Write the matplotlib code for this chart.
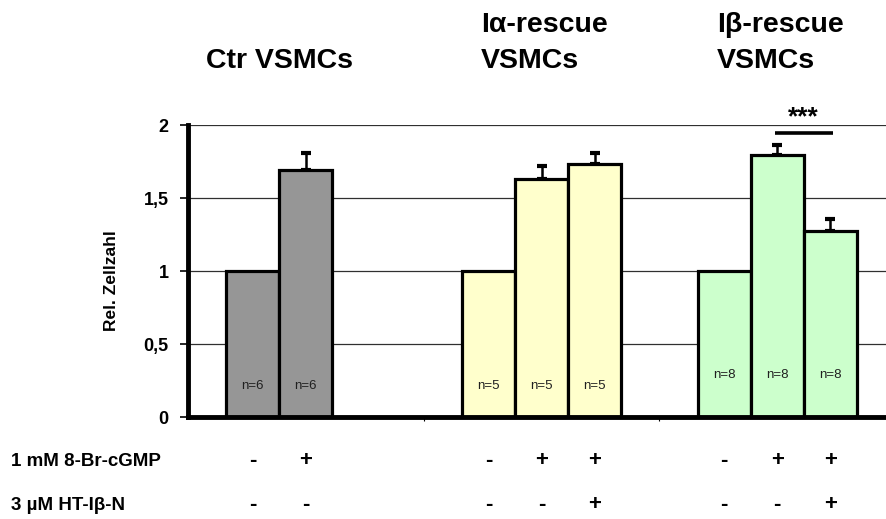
import matplotlib
matplotlib.use("Agg")
import matplotlib.pyplot as plt
import matplotlib.transforms as mtransforms

plt.rcParams['font.family'] = ['Liberation Sans', 'DejaVu Sans']

groups = ["Ctr VSMCs", "Iα-rescue\nVSMCs", "Iβ-rescue\nVSMCs"]
ctr_vals = [1.0, 1.69]
ctr_err = [0.0, 0.12]
alpha_vals = [1.0, 1.63, 1.735]
alpha_err = [0.0, 0.09, 0.07]
beta_vals = [1.0, 1.795, 1.276]
beta_err = [0.0, 0.065, 0.08]
n_labels = [["n=6", "n=6"], ["n=5", "n=5", "n=5"], ["n=8", "n=8", "n=8"]]
cgmp_signs = [["-", "+"], ["-", "+", "+"], ["-", "+", "+"]]
ht_signs = [["-", "-"], ["-", "-", "+"], ["-", "-", "+"]]
yticks = [0, 0.5, 1, 1.5, 2]
yticklabels = ["0", "0,5", "1", "1,5", "2"]

colors = ["#969696", "#FFFFCC", "#CCFFCC"]
values = [ctr_vals, alpha_vals, beta_vals]
errors = [ctr_err, alpha_err, beta_err]

W, H = 886, 519
fig = plt.figure(figsize=(W / 100, H / 100), dpi=100)
ax = fig.add_axes([188 / W, (H - 417) / H, (895 - 188) / W, (417 - 125) / H])

bw = 0.225
offsets = [-bw, 0, bw]
centers = []
for gi, (vals, errs) in enumerate(zip(values, errors)):
    cs = []
    for bi, (v, e) in enumerate(zip(vals, errs)):
        x = gi + offsets[bi]
        cs.append(x)
        ax.bar(x, v, width=bw, color=colors[gi], edgecolor="black",
               linewidth=2.3, zorder=3)
        if e > 0:
            ax.errorbar(x, v, yerr=[[0], [e]], fmt="none", ecolor="black",
                        elinewidth=1.8, capsize=3.5, capthick=3, zorder=2)
    centers.append(cs)

# sample sizes inside bars
for gi, cs in enumerate(centers):
    ny = 0.29 if gi == 2 else 0.215
    for x, lab in zip(cs, n_labels[gi]):
        ax.text(x, ny, lab, ha="center", va="center", fontsize=9.5,
                color="#202020", zorder=4)

# significance bracket
x1, x2 = centers[2][1], centers[2][2]
ax.plot([x1 - 0.01, x2 + 0.01], [1.945, 1.945], color="black", lw=2.6,
        solid_capstyle="butt", clip_on=False, zorder=4)
ax.text((x1 + x2) / 2, 2.055, "***", ha="center", va="center",
        fontsize=19, fontweight="bold")

ax.set_xlim(-0.5, 2.5)
ax.set_ylim(0, 2)
ax.set_yticks(yticks)
ax.set_yticklabels(yticklabels, fontsize=13, fontweight="bold")
ax.set_xticks([0.5, 1.5])
ax.set_xticklabels([])
ax.tick_params(axis="x", direction="out", length=3, width=0.8)
ax.tick_params(axis="y", direction="out", length=6, width=1.2, pad=8)
ax.yaxis.grid(True, color="#303030", linewidth=0.9, zorder=0)
ax.set_axisbelow(True)
for s in ["top", "right"]:
    ax.spines[s].set_visible(False)
ax.spines["left"].set_linewidth(3.5)
ax.spines["bottom"].set_linewidth(3.5)
ax.spines["left"].set_zorder(5)
ax.spines["bottom"].set_zorder(5)

ax.set_ylabel("Rel. Zellzahl", fontsize=12.5, fontweight="bold")
ax.yaxis.set_label_coords((118.5 - 188) / (895 - 188), (417 - 281) / (417 - 125))

# group titles
title_pos = [(280, 61, "center"), (481, 43, "left"), (717, 43, "left")]
for (px, py, ha), g in zip(title_pos, groups):
    fig.text(px / W, 1 - py / H, g, ha=ha, va="center", fontsize=20.5,
             fontweight="bold", linespacing=1.45)

# treatment rows
trans = mtransforms.blended_transform_factory(ax.transData, fig.transFigure)
rows = [(461, "1 mM 8-Br-cGMP", cgmp_signs), (505, "3 µM HT-Iβ-N", ht_signs)]
for py, lab, signs in rows:
    fig.text(11 / W, 1 - py / H, lab, ha="left", va="center", fontsize=13.5,
             fontweight="bold")
    for cs, ss in zip(centers, signs):
        for x, s in zip(cs, ss):
            ax.text(x, 1 - py / H, s, transform=trans, ha="center",
                    va="center", fontsize=16, fontweight="bold",
                    clip_on=False)

fig.savefig("out.png", dpi=100)
